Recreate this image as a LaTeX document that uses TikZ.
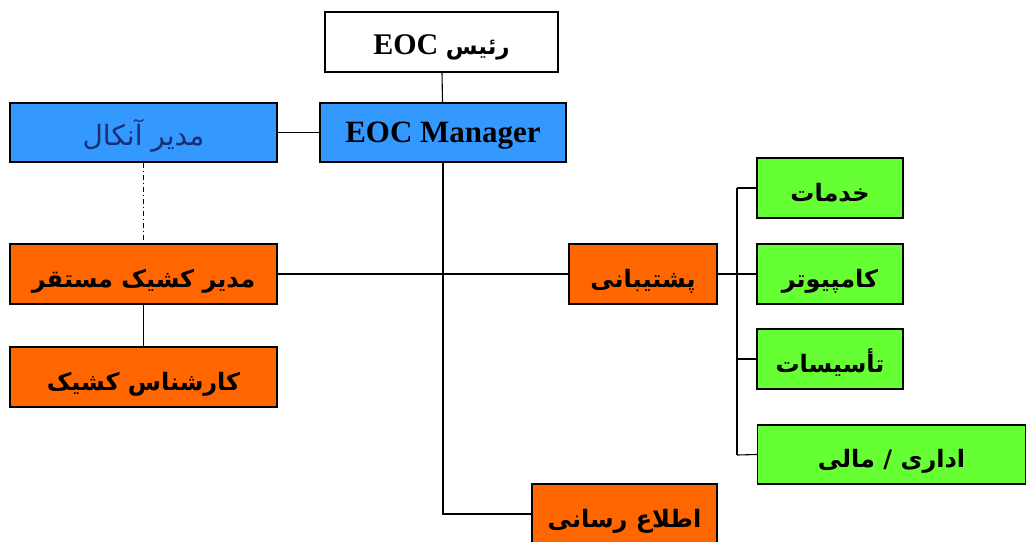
\documentclass[tikz,border=0pt]{standalone}
\usepackage{fontspec}
\setmainfont{Liberation Serif}
\newfontfamily\arfont[Script=Arabic]{DejaVu Sans}
\TeXXeTstate=1
\definecolor{boxblue}{HTML}{3399FF}
\definecolor{boxorange}{HTML}{FF6600}
\definecolor{boxgreen}{HTML}{66FF33}
\definecolor{navytext}{HTML}{1A2E78}
\tikzset{
  box/.style={draw=black, line width=1.3pt, inner sep=0pt, align=center},
  conn/.style={draw=black, line width=1.1pt},
  artext/.style={font=\arfont\bfseries\fontsize{24}{26}\selectfont, text height=30pt, text depth=4pt},
}
\begin{document}
\begin{tikzpicture}[x=1pt,y=-1pt]
\useasboundingbox[fill=white] (0,0) rectangle (1027,541);
% nodes
\node[box, fill=white, minimum width=233pt, minimum height=60pt, text height=28pt, text depth=4pt] (boss) at (441.5,42)
  {\bfseries\fontsize{30}{32}\selectfont\beginR{\arfont\fontsize{23}{24}\selectfont رئیس} EOC\endR};
\node[box, fill=boxblue, minimum width=246pt, minimum height=59pt, text height=24pt, text depth=5pt] (mgr) at (443,132.5)
  {\bfseries\fontsize{31}{32}\selectfont EOC Manager};
\node[box, fill=boxblue, minimum width=267pt, minimum height=59pt, text=navytext,
  font=\arfont\fontsize{28}{30}\selectfont, text height=30pt, text depth=4pt] (oncall) at (143.5,132.5) {\beginR مدیر آنکال\endR};
\node[box, fill=boxorange, minimum width=267pt, minimum height=60pt, artext] (shift) at (143.5,274)
  {\beginR مدیر کشیک مستقر\endR};
\node[box, fill=boxorange, minimum width=267pt, minimum height=60pt, artext] (expert) at (143.5,377)
  {\beginR کارشناس کشیک\endR};
\node[box, fill=boxorange, minimum width=148pt, minimum height=60pt, artext] (support) at (643,274)
  {\beginR پشتیبانی\endR};
\node[box, fill=boxgreen, minimum width=146pt, minimum height=60pt, artext] (services) at (830,188)
  {\beginR خدمات\endR};
\node[box, fill=boxgreen, minimum width=146pt, minimum height=60pt, artext] (computer) at (830,274)
  {\beginR کامپیوتر\endR};
\node[box, fill=boxgreen, minimum width=146pt, minimum height=60pt, artext] (facil) at (830,359)
  {\beginR تأسیسات\endR};
\node[box, fill=boxgreen, minimum width=268pt, minimum height=59pt, artext] (admin) at (891.5,454.5)
  {\beginR اداری / مالی\endR};
\node[box, fill=boxorange, minimum width=185pt, minimum height=60pt, artext] (info) at (624.5,514)
  {\beginR اطلاع رسانی\endR};
% connectors
\coordinate (bend) at (443,514);
\coordinate (busT) at (737,188);
\coordinate (busB) at (737,455);
\draw[conn] (boss) -- (mgr);
\draw[conn] (oncall) -- (mgr);
\draw[conn, dash pattern=on 5pt off 3pt on 1pt off 3pt, line width=0.9pt] (oncall) -- (shift);
\draw[conn] (shift) -- (expert);
\draw[conn] (shift) -- (support);
\draw[conn] (mgr.south) -- (bend) -- (info.west);
\draw[conn] (busT) -- (busB);
\draw[conn, line width=2pt] (support.east) -- (busT|-support.east);
\draw[conn] (busT) -- (services.west);
\draw[conn] (busT|-computer.west) -- (computer.west);
\draw[conn] (busT|-facil.west) -- (facil.west);
\draw[conn] (busB) -- (admin.west);
\end{tikzpicture}
\end{document}
